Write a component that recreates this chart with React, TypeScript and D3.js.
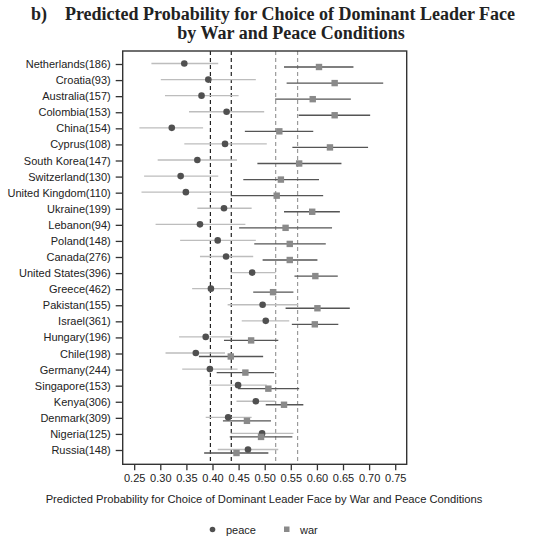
import { useEffect, useRef } from "react";
import * as d3 from "d3";

const COUNTRIES = [
  "Netherlands(186)", "Croatia(93)", "Australia(157)", "Colombia(153)", "China(154)",
  "Cyprus(108)", "South Korea(147)", "Switzerland(130)", "United Kingdom(110)", "Ukraine(199)",
  "Lebanon(94)", "Poland(148)", "Canada(276)", "United States(396)", "Greece(462)",
  "Pakistan(155)", "Israel(361)", "Hungary(196)", "Chile(198)", "Germany(244)",
  "Singapore(153)", "Kenya(306)", "Denmark(309)", "Nigeria(125)", "Russia(148)",
];

const PEACE = [0.346, 0.392, 0.379, 0.427, 0.322, 0.424, 0.371, 0.339, 0.349, 0.422, 0.376, 0.41, 0.426, 0.476, 0.397, 0.496, 0.502, 0.387, 0.368, 0.395, 0.449, 0.483, 0.43, 0.495, 0.468];
const PEACE_LO = [0.283, 0.301, 0.309, 0.355, 0.26, 0.346, 0.295, 0.269, 0.264, 0.371, 0.291, 0.338, 0.376, 0.435, 0.361, 0.429, 0.456, 0.336, 0.31, 0.342, 0.393, 0.446, 0.387, 0.435, 0.41];
const PEACE_HI = [0.411, 0.483, 0.45, 0.499, 0.382, 0.504, 0.447, 0.411, 0.435, 0.475, 0.463, 0.483, 0.478, 0.521, 0.435, 0.564, 0.547, 0.438, 0.424, 0.448, 0.504, 0.52, 0.475, 0.555, 0.526];

const WAR = [0.604, 0.634, 0.592, 0.634, 0.528, 0.625, 0.566, 0.531, 0.523, 0.591, 0.54, 0.548, 0.548, 0.597, 0.516, 0.601, 0.596, 0.474, 0.435, 0.463, 0.507, 0.537, 0.466, 0.493, 0.446];
const WAR_LO = [0.537, 0.542, 0.52, 0.565, 0.462, 0.553, 0.486, 0.459, 0.435, 0.537, 0.451, 0.48, 0.496, 0.557, 0.478, 0.54, 0.552, 0.422, 0.374, 0.408, 0.449, 0.502, 0.42, 0.433, 0.384];
const WAR_HI = [0.67, 0.727, 0.665, 0.702, 0.593, 0.698, 0.647, 0.604, 0.612, 0.644, 0.629, 0.617, 0.601, 0.64, 0.555, 0.663, 0.641, 0.526, 0.497, 0.518, 0.566, 0.574, 0.512, 0.553, 0.507];

// dashed reference lines: overall peace band (black) and war band (grey)
const PEACE_REF = [0.396, 0.436];
const WAR_REF = [0.521, 0.563];

const X_TICKS = [0.25, 0.3, 0.35, 0.4, 0.45, 0.5, 0.55, 0.6, 0.65, 0.7, 0.75];
const X_DOMAIN = [0.228, 0.772];

const W = 537;
const H = 545;
const SANS = "'Liberation Sans', Arial, sans-serif";
const SERIF = "'Liberation Serif', 'DejaVu Serif', serif";

export default function App() {
  const ref = useRef<SVGSVGElement | null>(null);

  useEffect(() => {
    const left = 122.7;
    const right = 406.7;
    const top = 51;
    const bottom = 464.3;

    const svg = d3.select(ref.current);
    svg.selectAll("*").remove();

    const x = d3.scaleLinear().domain(X_DOMAIN).range([left, right]);
    const y = d3.scalePoint<string>().domain(COUNTRIES).range([64, 450]);

    // title
    const title = svg
      .append("g")
      .style("font-family", SERIF)
      .style("font-weight", "700")
      .style("font-size", "18px")
      .attr("fill", "#222");
    title.append("text").attr("x", 31).attr("y", 19.5).text("b)");
    title
      .append("text")
      .attr("x", 290)
      .attr("y", 19.5)
      .attr("text-anchor", "middle")
      .text("Predicted Probability for Choice of Dominant Leader Face");
    title
      .append("text")
      .attr("x", 291)
      .attr("y", 39)
      .attr("text-anchor", "middle")
      .text("by War and Peace Conditions");

    // reference lines
    const refs = [
      ...PEACE_REF.map((v) => ({ v, c: "#222" })),
      ...WAR_REF.map((v) => ({ v, c: "#9a9a9a" })),
    ];
    svg
      .selectAll("line.ref")
      .data(refs)
      .join("line")
      .attr("class", "ref")
      .attr("x1", (d) => x(d.v))
      .attr("x2", (d) => x(d.v))
      .attr("y1", top)
      .attr("y2", bottom)
      .attr("stroke", (d) => d.c)
      .attr("stroke-width", 1.2)
      .attr("stroke-dasharray", "4,3");

    const rows = COUNTRIES.map((c, i) => ({
      c,
      p: PEACE[i],
      pl: PEACE_LO[i],
      ph: PEACE_HI[i],
      w: WAR[i],
      wl: WAR_LO[i],
      wh: WAR_HI[i],
    }));
    const py = (d: { c: string }) => (y(d.c) ?? 0) - 0.5;
    const wy = (d: { c: string }) => (y(d.c) ?? 0) + 3;

    // confidence intervals
    svg
      .selectAll("line.pci")
      .data(rows)
      .join("line")
      .attr("class", "pci")
      .attr("x1", (d) => x(d.pl))
      .attr("x2", (d) => x(d.ph))
      .attr("y1", py)
      .attr("y2", py)
      .attr("stroke", "#bdbdbd")
      .attr("stroke-width", 1.3);
    svg
      .selectAll("line.wci")
      .data(rows)
      .join("line")
      .attr("class", "wci")
      .attr("x1", (d) => x(d.wl))
      .attr("x2", (d) => x(d.wh))
      .attr("y1", wy)
      .attr("y2", wy)
      .attr("stroke", "#555")
      .attr("stroke-width", 1.3);

    // markers
    svg
      .selectAll("circle.peace")
      .data(rows)
      .join("circle")
      .attr("class", "peace")
      .attr("cx", (d) => x(d.p))
      .attr("cy", py)
      .attr("r", 3.3)
      .attr("fill", "#505050");
    const sq = 6.4;
    svg
      .selectAll("rect.war")
      .data(rows)
      .join("rect")
      .attr("class", "war")
      .attr("x", (d) => x(d.w) - sq / 2)
      .attr("y", (d) => wy(d) - sq / 2)
      .attr("width", sq)
      .attr("height", sq)
      .attr("fill", "#8a8a8a");

    // frame
    svg
      .append("rect")
      .attr("x", left)
      .attr("y", top)
      .attr("width", right - left)
      .attr("height", bottom - top)
      .attr("fill", "none")
      .attr("stroke", "#333")
      .attr("stroke-width", 1.4);

    // y axis
    svg
      .append("g")
      .attr("transform", `translate(${left},0)`)
      .call(d3.axisLeft(y).tickSize(7).tickPadding(5))
      .call((g) => g.select(".domain").remove())
      .call((g) => g.selectAll("line").attr("stroke", "#333").attr("stroke-width", 1.3))
      .call((g) =>
        g.selectAll("text").attr("fill", "#222").attr("font-size", 11).attr("font-family", SANS),
      );

    // x axis
    svg
      .append("g")
      .attr("transform", `translate(0,${bottom})`)
      .call(
        d3
          .axisBottom(x)
          .tickValues(X_TICKS)
          .tickFormat(d3.format(".2f"))
          .tickSize(6)
          .tickPadding(4),
      )
      .call((g) => g.select(".domain").remove())
      .call((g) => g.selectAll("line").attr("stroke", "#333").attr("stroke-width", 1.3))
      .call((g) =>
        g.selectAll("text").attr("fill", "#222").attr("font-size", 11).attr("font-family", SANS),
      );

    svg
      .append("text")
      .attr("x", 264)
      .attr("y", 503)
      .attr("text-anchor", "middle")
      .attr("font-family", SANS)
      .attr("font-size", 11.2)
      .attr("fill", "#222")
      .text("Predicted Probability for Choice of Dominant Leader Face by War and Peace Conditions");

    // legend
    const lg = svg.append("g").attr("font-family", SANS).attr("font-size", 11).attr("fill", "#222");
    lg.append("circle").attr("cx", 212.5).attr("cy", 529.5).attr("r", 2.8).attr("fill", "#505050");
    lg.append("text").attr("x", 226).attr("y", 534).text("peace");
    lg.append("rect").attr("x", 284).attr("y", 526.5).attr("width", 5.5).attr("height", 5.5).attr("fill", "#8a8a8a");
    lg.append("text").attr("x", 300).attr("y", 534).text("war");
  }, []);

  return (
    <svg
      ref={ref}
      width={W}
      height={H}
      style={{ position: "absolute", left: 0, top: 0, background: "#fff" }}
    />
  );
}
